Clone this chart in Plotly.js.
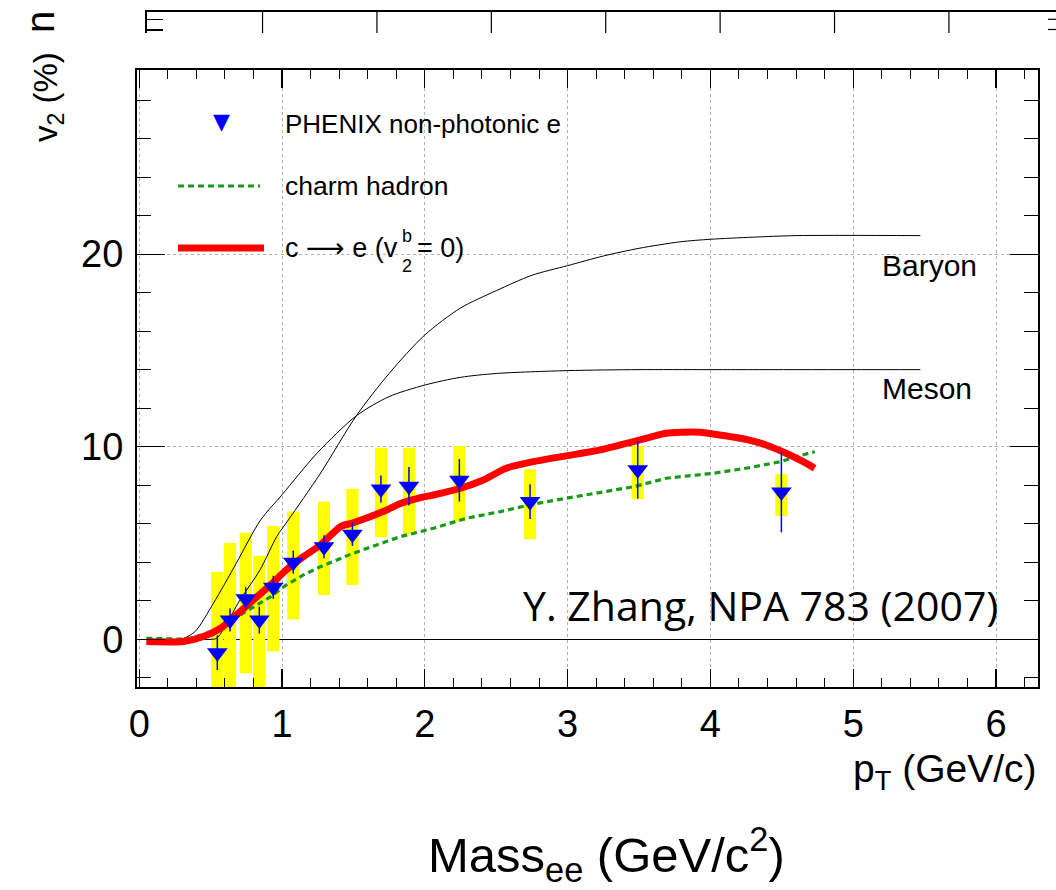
<!DOCTYPE html>
<html><head><meta charset="utf-8">
<script src="https://cdn.plot.ly/plotly-3.0.1.min.js"></script>
<style>html,body{margin:0;padding:0;background:#fff}#chart{width:1056px;height:890px}</style>
</head><body><div id="chart"></div>
<script>
// ---------- data ----------
// PHENIX non-photonic electron v2 (%)
const ptData  = [0.547, 0.636, 0.746, 0.841, 0.939, 1.079, 1.294, 1.493, 1.693, 1.889, 2.242, 2.737, 3.491, 4.497];
const v2Data  = [-0.7, 1.0, 2.1, 1.0, 2.7, 4.0, 4.8, 5.45, 7.8, 7.95, 8.25, 7.15, 8.8, 7.65];
const v2Stat  = [0.9, 0.6, 0.6, 0.7, 0.6, 0.6, 0.6, 0.6, 0.7, 1.0, 1.1, 0.9, 1.5, 2.1];
const sysLow  = [-3.5, -3.0, -1.77, -3.0, -0.64, 1.04, 2.30, 2.82, 5.30, 5.45, 6.11, 5.19, 7.27, 6.40];
const sysHigh = [3.5, 5.0, 5.53, 4.34, 5.88, 6.63, 7.14, 7.82, 9.95, 9.95, 10.04, 8.83, 10.04, 8.57];

// c -> e (v2^b = 0)
const ceX = [0.05, 0.31, 0.45, 0.57, 0.68, 0.80, 0.92, 1.03, 1.15, 1.27, 1.41, 1.50, 1.73, 1.83, 1.97, 2.06, 2.25, 2.41, 2.57, 2.76, 2.99, 3.23, 3.46, 3.69, 3.80, 3.93, 4.02, 4.25, 4.39, 4.53, 4.65, 4.73];
const ceY = [-0.12, -0.12, 0.14, 0.57, 1.26, 2.04, 2.82, 3.6, 4.29, 4.9, 5.85, 6.05, 6.7, 7.05, 7.35, 7.49, 7.84, 8.27, 8.88, 9.22, 9.52, 9.83, 10.26, 10.7, 10.75, 10.75, 10.66, 10.38, 10.09, 9.66, 9.22, 8.88];

// charm hadron
const charmX = [0.05, 0.33, 0.45, 0.57, 0.68, 0.80, 0.92, 1.03, 1.15, 1.27, 1.50, 1.73, 1.83, 2.06, 2.29, 2.53, 2.76, 2.99, 3.23, 3.46, 3.69, 3.93, 4.02, 4.25, 4.49, 4.60, 4.73];
const charmY = [0.05, 0.0, 0.24, 0.57, 1.14, 1.69, 2.21, 2.82, 3.34, 3.77, 4.47, 5.07, 5.33, 5.76, 6.28, 6.63, 7.02, 7.32, 7.63, 7.92, 8.36, 8.53, 8.62, 8.88, 9.22, 9.48, 9.74];

// quark-number-scaling curves
const mesonX = [0.30, 0.39, 0.52, 0.68, 0.85, 1.00, 1.25, 1.52, 1.75, 2.00, 2.25, 2.50, 3.00, 3.50, 4.00, 5.47];
const mesonY = [0.0, 0.39, 1.87, 3.95, 6.19, 7.5, 9.7, 11.6, 12.6, 13.2, 13.6, 13.8, 13.95, 14.0, 14.0, 14.0];
const baryonX = [0.50, 0.543, 0.706, 0.846, 0.963, 1.044, 1.266, 1.52, 1.75, 2.00, 2.25, 2.50, 2.75, 3.00, 3.25, 3.50, 3.79, 4.00, 4.30, 4.60, 5.47];
const baryonY = [0.0, 0.05, 2.04, 3.6, 5.33, 6.19, 8.58, 11.6, 13.8, 15.8, 17.2, 18.1, 18.9, 19.4, 19.9, 20.3, 20.64, 20.77, 20.88, 20.96, 20.96];

// ticks of the (mostly hidden) Mass_ee panel behind the pasted plot
const massTicks = [0.5, 1.0, 1.5, 2.0, 2.5, 3.0, 3.5];

const legendLabels = ['PHENIX non-photonic e', 'charm hadron'];
const curveLabels = ['Baryon', 'Meson'];

// ---------- helpers (pixel -> paper, margins are zero) ----------
const W = 1056, H = 890;
const px = v => v / W;
const py = v => 1 - v / H;
const ARIAL = 'Liberation Sans, Arial, sans-serif';
const black = '#000000';
const GREEN = '#189a18';

const traces = [
  { type: 'bar', x: ptData, base: sysLow, y: sysHigh.map((h, i) => h - sysLow[i]),
    width: 0.085, marker: { color: '#ffff00', line: { width: 0 } }, showlegend: false, hoverinfo: 'skip' },
  { type: 'scatter', mode: 'lines', x: mesonX, y: mesonY, line: { color: black, width: 1, shape: 'spline', smoothing: 0.8 }, showlegend: false },
  { type: 'scatter', mode: 'lines', x: baryonX, y: baryonY, line: { color: black, width: 1, shape: 'spline', smoothing: 0.8 }, showlegend: false },
  { type: 'scatter', mode: 'lines', x: charmX, y: charmY, line: { color: GREEN, width: 3.2, dash: '6px,4px' }, showlegend: false },
  { type: 'scatter', mode: 'lines', x: ceX, y: ceY, line: { color: '#ff0000', width: 7, shape: 'spline', smoothing: 0.6 }, showlegend: false },
  { type: 'scatter', mode: 'markers', x: ptData, y: v2Data,
    marker: { symbol: 'triangle-down', size: 18, color: '#0000ff' },
    error_y: { type: 'data', array: v2Stat, color: '#0000ff', thickness: 1.5, width: 0 }, showlegend: false },
  { type: 'scatter', mode: 'markers', x: [1], y: [1], xaxis: 'x2', yaxis: 'y2', marker: { opacity: 0 }, showlegend: false, hoverinfo: 'skip' }
];

const massTickShapes = massTicks.map(t => ({
  type: 'line', xref: 'x2', yref: 'paper', x0: t, x1: t, y0: py(12), y1: py(33),
  line: { color: black, width: 1.2 }
}));

const layout = {
  width: W, height: H,
  margin: { l: 0, r: 0, t: 0, b: 0 },
  paper_bgcolor: '#ffffff', plot_bgcolor: 'rgba(0,0,0,0)',
  showlegend: false,
  barmode: 'overlay',
  font: { family: ARIAL, color: black },
  xaxis: {
    type: 'linear', domain: [px(137), px(1038)], range: [-0.0154, 6.294], anchor: 'y',
    showline: true, linecolor: black, linewidth: 2, mirror: 'allticks',
    ticks: 'inside', ticklen: 18, tickwidth: 1.2, tickcolor: black, dtick: 1, tick0: 0,
    tickfont: { family: ARIAL, size: 38, color: black }, ticklabelstandoff: 2,
    showgrid: true, gridcolor: '#b0b0b0', griddash: 'dot', gridwidth: 1,
    zeroline: false, layer: 'above traces',
    minor: { ticks: 'inside', ticklen: 9, dtick: 0.2, tick0: 0, tickwidth: 1, tickcolor: black, showgrid: false }
  },
  yaxis: {
    type: 'linear', domain: [py(687), py(70)], range: [-2.48, 29.56], anchor: 'x',
    showline: true, linecolor: black, linewidth: 2, mirror: 'allticks',
    ticks: 'inside', ticklen: 28, tickwidth: 1.2, tickcolor: black, dtick: 10, tick0: 0,
    tickfont: { family: ARIAL, size: 38, color: black }, ticklabelstandoff: 4,
    showgrid: true, gridcolor: '#b0b0b0', griddash: 'dot', gridwidth: 1,
    zeroline: true, zerolinecolor: black, zerolinewidth: 1.2, layer: 'above traces',
    minor: { ticks: 'inside', ticklen: 14, dtick: 2, tick0: 0, tickwidth: 1, tickcolor: black, showgrid: false }
  },
  // partially hidden panel behind the pasted plot (only its top edge shows)
  xaxis2: {
    type: 'linear', domain: [px(147), 1], range: [-0.005, 3.968], anchor: 'y2', side: 'top',
    showline: true, linecolor: black, linewidth: 2, ticks: '',
    showgrid: false, showticklabels: false, zeroline: false
  },
  yaxis2: {
    type: 'linear', domain: [py(33), py(12)], range: [0, 21], anchor: 'x2',
    showline: true, linecolor: black, linewidth: 2,
    ticks: 'inside', ticklen: 16, tickwidth: 1.2, tickcolor: black, tickmode: 'array', tickvals: [3, 13.7],
    showticklabels: false, showgrid: false, zeroline: false
  },
  shapes: [
    { type: 'line', xref: 'paper', yref: 'paper', x0: px(178), x1: px(260), y0: py(186), y1: py(186),
      line: { color: GREEN, width: 3.2, dash: '6px,4px' } },
    { type: 'line', xref: 'paper', yref: 'paper', x0: px(178), x1: px(264), y0: py(248), y1: py(248),
      line: { color: '#ff0000', width: 7 } },
    { type: 'line', xref: 'paper', yref: 'paper', x0: px(1048), x1: 1, y0: py(19.3), y1: py(19.3), line: { color: black, width: 1.2 } },
    { type: 'line', xref: 'paper', yref: 'paper', x0: px(1048), x1: 1, y0: py(29.5), y1: py(29.5), line: { color: black, width: 1.2 } }
  ].concat(massTickShapes),
  annotations: [
    { xref: 'paper', yref: 'paper', x: px(221.5), y: py(122), text: '▼', showarrow: false,
      font: { family: 'DejaVu Sans', size: 22, color: '#0000ff' }, xanchor: 'center', yanchor: 'middle' },
    { xref: 'paper', yref: 'paper', x: px(283), y: py(124), text: legendLabels[0], showarrow: false,
      font: { family: ARIAL, size: 26 }, xanchor: 'left', yanchor: 'middle' },
    { xref: 'paper', yref: 'paper', x: px(283), y: py(186), text: legendLabels[1], showarrow: false,
      font: { family: ARIAL, size: 26.5 }, xanchor: 'left', yanchor: 'middle' },
    { xref: 'paper', yref: 'paper', x: px(283), y: py(248), text: 'c <span style="font-family:DejaVu Sans">⟶</span> e (v', showarrow: false,
      font: { family: ARIAL, size: 27 }, xanchor: 'left', yanchor: 'middle' },
    { xref: 'paper', yref: 'paper', x: px(400), y: py(236), text: 'b', showarrow: false,
      font: { family: ARIAL, size: 18 }, xanchor: 'left', yanchor: 'middle' },
    { xref: 'paper', yref: 'paper', x: px(400), y: py(266), text: '2', showarrow: false,
      font: { family: ARIAL, size: 18 }, xanchor: 'left', yanchor: 'middle' },
    { xref: 'paper', yref: 'paper', x: px(415), y: py(248), text: '= 0)', showarrow: false,
      font: { family: ARIAL, size: 27 }, xanchor: 'left', yanchor: 'middle' },
    { xref: 'x', yref: 'y', x: 5.19, y: 19.4, text: curveLabels[0], showarrow: false,
      font: { family: ARIAL, size: 30 }, xanchor: 'left', yanchor: 'middle' },
    { xref: 'x', yref: 'y', x: 5.19, y: 13.0, text: curveLabels[1], showarrow: false,
      font: { family: ARIAL, size: 30 }, xanchor: 'left', yanchor: 'middle' },
    { xref: 'x', yref: 'y', x: 2.675, y: 1.8, text: 'Y. Zhang, NPA 783 (2007)', showarrow: false,
      font: { family: 'Open Sans', size: 41 }, xanchor: 'left', yanchor: 'middle' },
    { xref: 'paper', yref: 'paper', x: px(1039), y: py(771), text: 'p<sub>T</sub> (GeV/c)', showarrow: false,
      font: { family: ARIAL, size: 39 }, xanchor: 'right', yanchor: 'middle' },
    { xref: 'paper', yref: 'paper', x: px(606), y: py(854), text: 'Mass<sub>ee</sub> (GeV/c<sup>2</sup>)', showarrow: false,
      font: { family: ARIAL, size: 49 }, xanchor: 'center', yanchor: 'middle' },
    { xref: 'paper', yref: 'paper', x: px(48), y: py(97), text: 'v<sub>2</sub> (%)', showarrow: false, textangle: -90,
      font: { family: ARIAL, size: 33 }, xanchor: 'center', yanchor: 'middle' },
    { xref: 'paper', yref: 'paper', x: px(40), y: py(22), text: 'n', showarrow: false, textangle: -90,
      font: { family: ARIAL, size: 40 }, xanchor: 'center', yanchor: 'middle' }
  ]
};

Plotly.newPlot('chart', traces, layout, { staticPlot: true, displayModeBar: false });
</script>
</body></html>
